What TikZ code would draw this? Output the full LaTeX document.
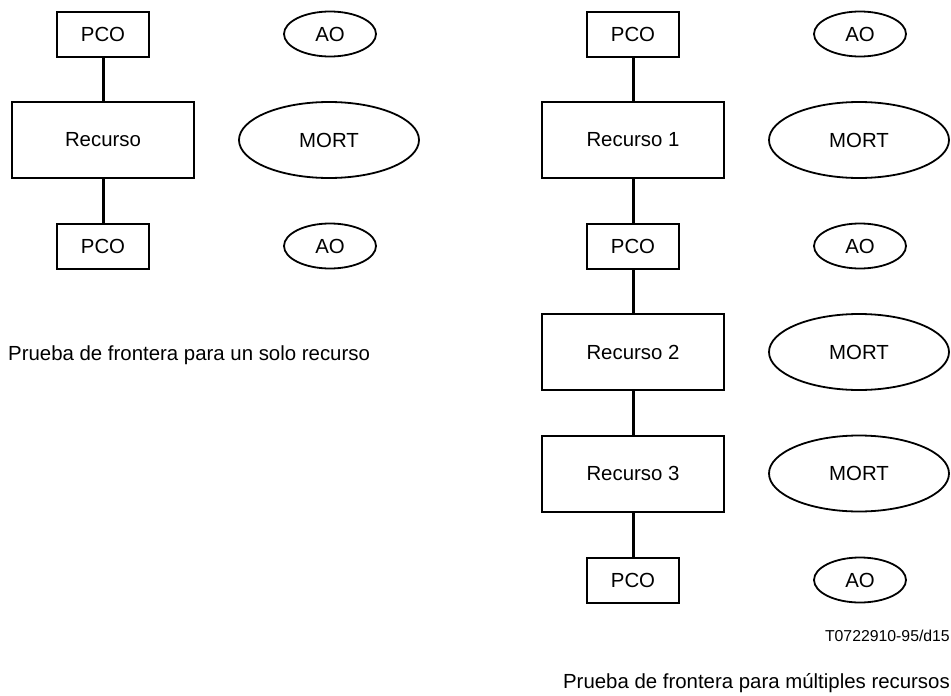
\documentclass[tikz,border=0pt]{standalone}
\usepackage{fontspec}
\setmainfont{Liberation Sans}
\usetikzlibrary{shapes.geometric}
\begin{document}
\begin{tikzpicture}[x=1pt,y=-1pt,
  txt/.style={font=\fontsize{20.4}{23}\selectfont},
  pco/.style={draw,line width=2pt,minimum width=92pt,minimum height=45pt,inner sep=0pt,txt},
  res/.style={draw,line width=2pt,minimum width=182pt,minimum height=76pt,inner sep=0pt,txt},
  ao/.style={draw,ellipse,line width=1.8pt,minimum width=92pt,minimum height=45pt,inner sep=0pt,txt},
  mort/.style={draw,ellipse,line width=1.8pt,minimum width=180pt,minimum height=76pt,inner sep=0pt,txt},
  link/.style={line width=3pt}]
\useasboundingbox (0,0) rectangle (951,696);
% left
\node[pco] (lp1) at (103,34.5) {PCO};
\node[res] (lr) at (103,140) {Recurso};
\node[pco] (lp2) at (103,246) {PCO};
\node[ao] (la1) at (330,34) {AO};
\node[mort] (lm) at (329,140) {MORT};
\node[ao] (la2) at (330,246) {AO};
\draw[link] (lp1) -- (lr);
\draw[link] (lr) -- (lp2);
\node[txt,anchor=west,inner sep=0pt] (lcap) at (8,355) {Prueba de frontera para un solo recurso};
% right
\node[pco] (rp1) at (633,34.5) {PCO};
\node[res] (rr1) at (633,140) {Recurso 1};
\node[pco] (rp2) at (633,246) {PCO};
\node[res] (rr2) at (633,352) {Recurso 2};
\node[res] (rr3) at (633,473.5) {Recurso 3};
\node[pco] (rp3) at (633,580) {PCO};
\node[ao] (ra1) at (860,34) {AO};
\node[mort] (rm1) at (859,140) {MORT};
\node[ao] (ra2) at (860,246) {AO};
\node[mort] (rm2) at (859,352) {MORT};
\node[mort] (rm3) at (859,473.5) {MORT};
\node[ao] (ra3) at (860,580) {AO};
\draw[link] (rp1) -- (rr1);
\draw[link] (rr1) -- (rp2);
\draw[link] (rp2) -- (rr2);
\draw[link] (rr2) -- (rr3);
\draw[link] (rr3) -- (rp3);
\node[font=\fontsize{15.8}{18}\selectfont,anchor=east,inner sep=0pt] (code) at (950,636) {T0722910-95/d15};
\node[txt,anchor=east,inner sep=0pt] (rcap) at (950,683) {Prueba de frontera para múltiples recursos};
\end{tikzpicture}
\end{document}
